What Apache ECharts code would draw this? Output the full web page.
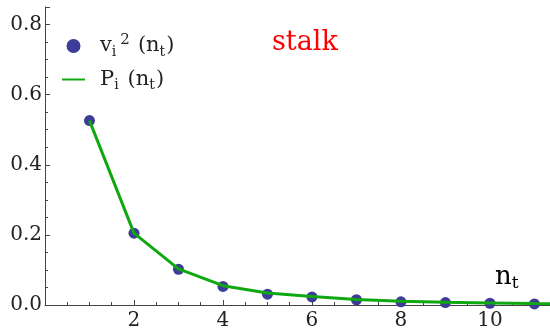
<!DOCTYPE html>
<html>
<head>
<meta charset="utf-8">
<script src="https://cdn.jsdelivr.net/npm/echarts@6/dist/echarts.min.js"></script>
<style>
  html, body { margin: 0; padding: 0; background: #fff; }
  #main { width: 550px; height: 331px; }
</style>
</head>
<body>
<div id="main"></div>
<script>
// n_t values
const steps = [1, 2, 3, 4, 5, 6, 7, 8, 9, 10, 11]
// v_i^2(n_t) points
const vSquared = [0.526, 0.205, 0.102, 0.053, 0.031, 0.023, 0.015, 0.009, 0.007, 0.005, 0.003]
// P_i(n_t) line (runs on past the right edge)
const lineSteps = [1, 2, 3, 4, 5, 6, 7, 8, 9, 10, 11, 12]
const pValues = [0.526, 0.205, 0.103, 0.055, 0.034, 0.024, 0.016, 0.011, 0.008, 0.006, 0.004, 0.003]

const serif = 'DejaVu Serif'
const rich = {
  m: { fontFamily: serif, fontSize: 21, color: '#222', lineHeight: 26, verticalAlign: 'middle' },
  l: { fontFamily: serif, fontSize: 21, color: '#222', lineHeight: 26, verticalAlign: 'middle', padding: [0, 0, 0, 8] },
  s: { fontFamily: serif, fontSize: 14, color: '#222', lineHeight: 12, verticalAlign: 'bottom', padding: [0, 1, 0, 0] },
  p: { fontFamily: serif, fontSize: 15, color: '#222', lineHeight: 14, verticalAlign: 'top', padding: [0, 0, 0, 3] },
  n: { fontFamily: serif, fontSize: 26, color: '#222', lineHeight: 30, verticalAlign: 'middle' },
  t: { fontFamily: serif, fontSize: 17, color: '#222', lineHeight: 14, verticalAlign: 'bottom' },
  g: { width: 10 }
}

const chart = echarts.init(document.getElementById('main'))
chart.setOption({
  animation: false,
  grid: { left: 45, right: 0, top: 7, bottom: 26 },
  xAxis: {
    type: 'value',
    min: 0,
    max: 11.35,
    interval: 2,
    splitLine: { show: false },
    axisLine: { onZero: true, lineStyle: { color: '#444', width: 1 } },
    axisTick: { inside: true, length: 5, lineStyle: { color: '#444' } },
    minorTick: { show: true, splitNumber: 4, length: 3, lineStyle: { color: '#444' } },
    axisLabel: {
      fontFamily: serif, fontSize: 20, color: '#222', margin: 6,
      showMaxLabel: false,
      formatter: v => (v === 0 ? '' : String(v))
    }
  },
  yAxis: {
    type: 'value',
    min: 0,
    max: 0.85,
    interval: 0.2,
    splitLine: { show: false },
    axisLine: { show: true, lineStyle: { color: '#444', width: 1 } },
    axisTick: { show: true, inside: true, length: 5, lineStyle: { color: '#444' } },
    minorTick: { show: true, splitNumber: 4, length: 3, lineStyle: { color: '#444' } },
    axisLabel: {
      fontFamily: serif, fontSize: 20, color: '#222', margin: 3,
      showMaxLabel: false,
      formatter: v => v.toFixed(1)
    }
  },
  legend: {
    orient: 'vertical',
    left: 61,
    top: 33,
    padding: 0,
    itemWidth: 23,
    itemHeight: 14,
    itemGap: 10,
    textStyle: { rich: rich },
    formatter: name => name === 'v'
      ? '{g|}{m|v}{s|i}{p|2}{l|(n}{s|t}{m|)}'
      : '{g|}{m|P}{s|i}{l|(n}{s|t}{m|)}',
    data: [
      { name: 'v', icon: 'circle' },
      { name: 'P', itemStyle: { opacity: 0 } }
    ]
  },
  graphic: [
    {
      type: 'text', left: 272, top: 29,
      style: { text: 'stalk', fontFamily: serif, fontSize: 27, fill: '#ff0000' }
    },
    {
      type: 'text', left: 495, top: 264,
      style: {
        text: '{n|n}{t|t}',
        rich: rich
      }
    }
  ],
  series: [
    {
      name: 'v',
      type: 'scatter',
      data: steps.map((n, i) => [n, vSquared[i]]),
      symbolSize: 11,
      itemStyle: { color: '#3d3d99', opacity: 1 },
      z: 2
    },
    {
      name: 'P',
      type: 'line',
      data: lineSteps.map((n, i) => [n, pValues[i]]),
      symbol: 'none',
      clip: true,
      lineStyle: { color: '#10a810', width: 3 },
      itemStyle: { color: '#10a810' },
      z: 3
    }
  ]
})
</script>
</body>
</html>
